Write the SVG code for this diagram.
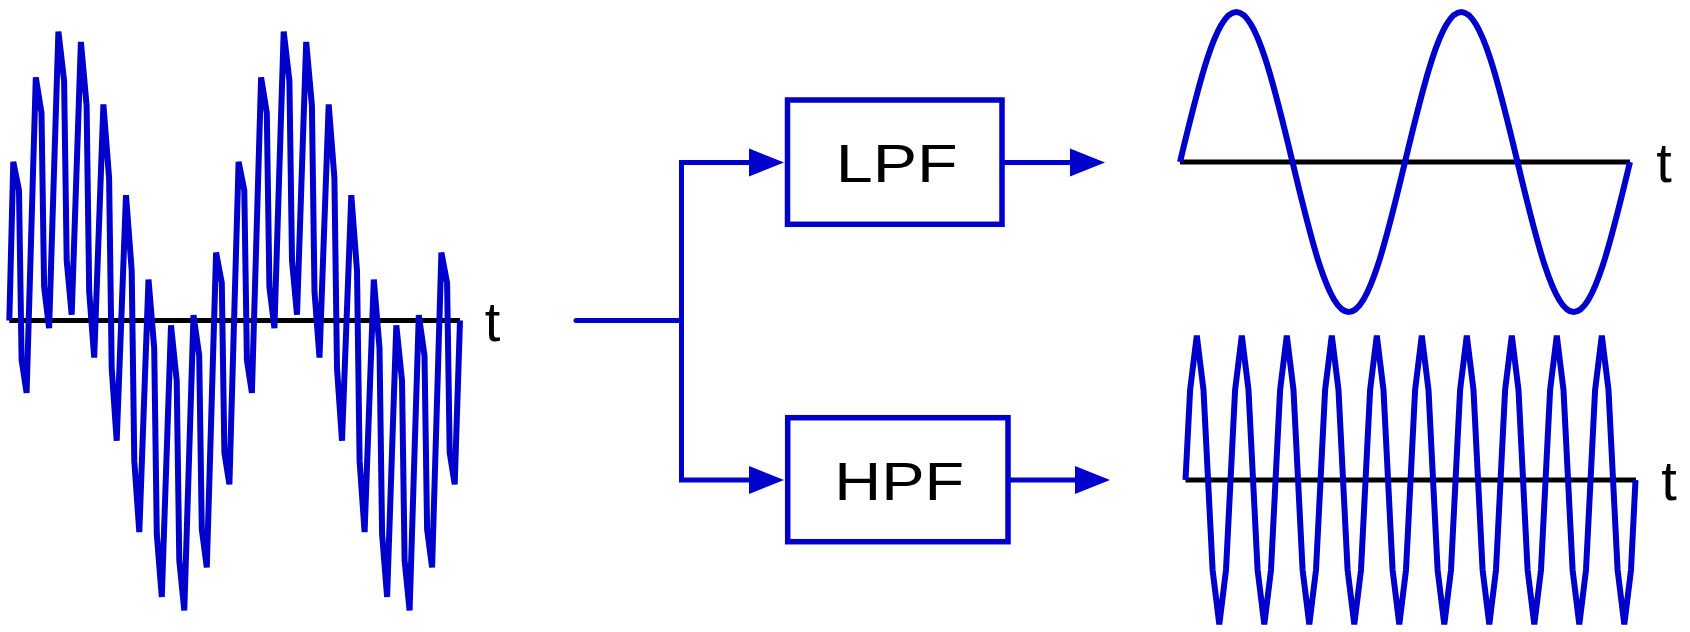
<svg xmlns="http://www.w3.org/2000/svg" width="1690" height="632" viewBox="0 0 1690 632">
  <style>
    .sig{fill:none;stroke:#0000cc;stroke-width:6}
    .axis{fill:none;stroke:#000;stroke-width:5}
    .box{fill:#fff;stroke:#0000cc;stroke-width:5.5}
    .wire{fill:none;stroke:#0000cc;stroke-width:5}
    .lbl{font-family:"Liberation Sans",Arial,sans-serif;font-size:54px;fill:#000}
    .tl{font-family:"Liberation Sans",Arial,sans-serif;font-size:56px;fill:#000;text-anchor:middle}
  </style>
  <defs>
    <marker id="ah" markerUnits="userSpaceOnUse" markerWidth="36" markerHeight="30" refX="10" refY="14" orient="auto" overflow="visible">
      <path d="M0,0 L35,14 L0,28 Z" fill="#0000cc"/>
    </marker>
  </defs>
  <rect width="1690" height="632" fill="#fff"/>

  <g id="input-signal">
    <line class="axis" x1="9.3" y1="320.5" x2="460" y2="320.5"/>
    <polyline class="sig" points="9.3,320.5 13.3,161.8 19,190.4 21.6,360.1 26.6,392.9 35.8,77.4 41.5,113.1 44.1,286.7 49.1,328.1 58.4,31.6 64.1,80.6 66.7,260.6 71.7,314.6 80.9,41.9 86.6,105.4 89.2,291.7 94.2,357.6 103.4,104.4 109.1,178 111.7,368.3 116.7,440.7 126,195.2 131.7,270.6 134.3,460.9 139.3,532.1 148.5,279.6 154.2,347.9 156.8,534.3 161.8,596.9 171,325.4 176.7,380.4 179.3,560.4 184.3,610.4 193.5,315.1 199.2,355.6 201.8,529.3 206.8,567.4 216.1,252.6 221.8,283 224.4,452.7 229.4,484.3 238.6,161.8 244.3,190.4 246.9,360.1 251.9,392.9 261.1,77.4 266.8,113.1 269.4,286.7 274.4,328.1 283.7,31.6 289.4,80.6 292,260.6 297,314.6 306.2,41.9 311.9,105.4 314.5,291.7 319.5,357.6 328.7,104.4 334.4,178 337,368.3 342,440.7 351.3,195.2 357,270.6 359.6,460.9 364.6,532.1 373.8,279.6 379.5,347.9 382.1,534.3 387.1,596.9 396.3,325.4 402,380.4 404.6,560.4 409.6,610.4 418.8,315.1 424.5,355.6 427.1,529.3 432.1,567.4 441.4,252.6 447.1,283 449.7,452.7 454.7,484.3 460,320.5"/>
    <text class="tl" x="492.5" y="340.5">t</text>
  </g>

  <g id="lpf">
    <rect class="box" x="787.5" y="100" width="214.5" height="124.3"/>
    <text class="lbl" x="896.7" y="181.7" text-anchor="middle" textLength="122" lengthAdjust="spacingAndGlyphs">LPF</text>
  </g>

  <g id="hpf">
    <rect class="box" x="787.7" y="417.7" width="220.3" height="124"/>
    <text class="lbl" x="899.2" y="499.5" text-anchor="middle" textLength="130" lengthAdjust="spacingAndGlyphs">HPF</text>
  </g>

  <g id="lpf-output">
    <line class="axis" x1="1180" y1="162" x2="1630" y2="162"/>
    <path class="sig" d="M1180,162 c18.35,-76.84 35.89,-150 56.25,-150 c20.36,0 37.9,73.16 56.25,150 c18.35,76.84 35.89,150 56.25,150 c20.36,0 37.9,-73.16 56.25,-150 c18.35,-76.84 35.89,-150 56.25,-150 c20.36,0 37.9,73.16 56.25,150 c18.35,76.84 35.89,150 56.25,150 c20.36,0 37.9,-73.16 56.25,-150"/>
    <text class="tl" x="1664" y="181.5">t</text>
  </g>

  <g id="hpf-output">
    <line class="axis" x1="1185.5" y1="480" x2="1636" y2="480"/>
    <polyline class="sig" points="1185.5,480 1190.1,390 1196.8,335.5 1203.5,390 1212.6,570 1219.3,624.5 1226,570 1235.1,390 1241.8,335.5 1248.5,390 1257.6,570 1264.3,624.5 1271,570 1280.1,390 1286.8,335.5 1293.5,390 1302.6,570 1309.3,624.5 1316,570 1325.1,390 1331.8,335.5 1338.5,390 1347.6,570 1354.3,624.5 1361,570 1370.1,390 1376.8,335.5 1383.5,390 1392.6,570 1399.3,624.5 1406,570 1415.1,390 1421.8,335.5 1428.5,390 1437.6,570 1444.3,624.5 1451,570 1460.1,390 1466.8,335.5 1473.5,390 1482.6,570 1489.3,624.5 1496,570 1505.1,390 1511.8,335.5 1518.5,390 1527.6,570 1534.3,624.5 1541,570 1550.1,390 1556.8,335.5 1563.5,390 1572.6,570 1579.3,624.5 1586,570 1595.1,390 1601.8,335.5 1608.5,390 1617.6,570 1624.3,624.5 1631,570 1635.5,480"/>
    <text class="tl" x="1669" y="499.5">t</text>
  </g>

  <g id="connectors">
    <path class="wire" d="M576,320.5 H681.5" stroke-linecap="round"/>
    <path class="wire" d="M681.5,320.5 V162.5 H759" marker-end="url(#ah)"/>
    <path class="wire" d="M681.5,320.5 V480 H759" marker-end="url(#ah)"/>
    <path class="wire" d="M1002,162.5 H1080" marker-end="url(#ah)"/>
    <path class="wire" d="M1008,480 H1085" marker-end="url(#ah)"/>
  </g>
</svg>
